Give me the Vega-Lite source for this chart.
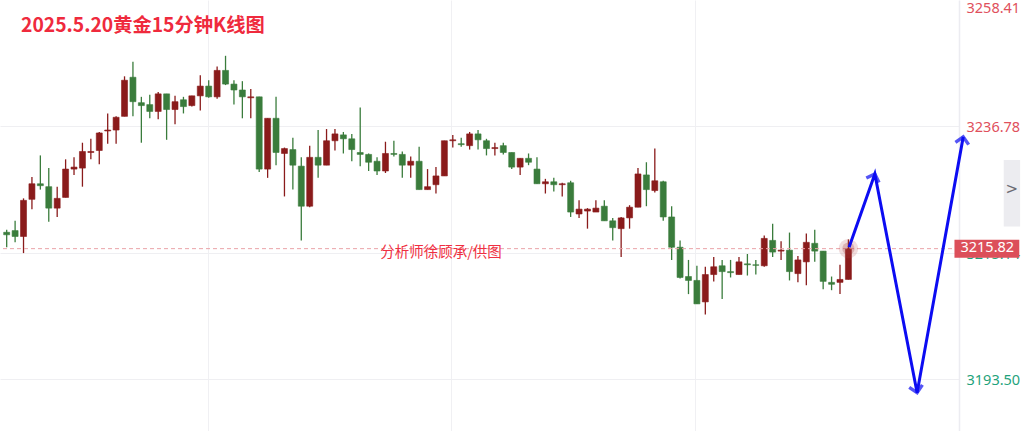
{
  "$schema": "https://vega.github.io/schema/vega-lite/v6.json",
  "width": 959,
  "height": 431,
  "autosize": {"type": "none"},
  "padding": {"left": 0, "top": 0, "right": 65, "bottom": 0},
  "background": "white",
  "view": {"stroke": null},
  "config": {"font": "Noto Sans"},
  "title": {
    "text": "2025.5.20黄金15分钟K线图",
    "anchor": "start",
    "frame": "group",
    "orient": "top",
    "offset": -51,
    "dx": 21,
    "baseline": "alphabetic",
    "font": "Noto Sans CJK SC",
    "fontSize": 19.3,
    "fontWeight": "bold",
    "color": "#ef2a3d"
  },
  "datasets": {
    "candles": [
      {"i":0,"open":3218.62,"high":3219.07,"low":3216.06,"close":3218.19},
      {"i":1,"open":3218.91,"high":3220.58,"low":3216.90,"close":3217.90},
      {"i":2,"open":3217.90,"high":3224.42,"low":3215.06,"close":3224.08},
      {"i":3,"open":3224.25,"high":3228.09,"low":3222.58,"close":3226.92},
      {"i":4,"open":3226.92,"high":3231.77,"low":3225.92,"close":3226.59},
      {"i":5,"open":3226.42,"high":3229.60,"low":3220.41,"close":3222.75},
      {"i":6,"open":3222.75,"high":3226.42,"low":3221.24,"close":3224.42},
      {"i":7,"open":3224.59,"high":3231.10,"low":3224.59,"close":3229.43},
      {"i":8,"open":3229.43,"high":3231.44,"low":3228.43,"close":3229.77},
      {"i":9,"open":3229.60,"high":3233.94,"low":3226.42,"close":3232.44},
      {"i":10,"open":3232.27,"high":3234.61,"low":3231.10,"close":3232.44},
      {"i":11,"open":3232.61,"high":3235.78,"low":3230.27,"close":3235.61},
      {"i":12,"open":3235.95,"high":3238.95,"low":3233.77,"close":3236.11},
      {"i":13,"open":3236.11,"high":3238.45,"low":3233.77,"close":3238.29},
      {"i":14,"open":3238.45,"high":3245.30,"low":3238.45,"close":3244.63},
      {"i":15,"open":3245.14,"high":3247.81,"low":3238.45,"close":3240.96},
      {"i":16,"open":3240.79,"high":3241.79,"low":3233.94,"close":3240.29},
      {"i":17,"open":3240.46,"high":3242.13,"low":3238.12,"close":3239.29},
      {"i":18,"open":3239.29,"high":3242.63,"low":3237.95,"close":3242.30},
      {"i":19,"open":3242.30,"high":3242.30,"low":3234.44,"close":3239.62},
      {"i":20,"open":3239.62,"high":3241.96,"low":3237.12,"close":3240.96},
      {"i":21,"open":3241.29,"high":3241.79,"low":3238.95,"close":3240.12},
      {"i":22,"open":3240.29,"high":3241.96,"low":3240.12,"close":3241.96},
      {"i":23,"open":3241.96,"high":3245.47,"low":3239.46,"close":3243.63},
      {"i":24,"open":3243.63,"high":3244.63,"low":3241.63,"close":3241.79},
      {"i":25,"open":3241.79,"high":3246.97,"low":3241.46,"close":3246.31},
      {"i":26,"open":3246.31,"high":3248.81,"low":3243.80,"close":3243.97},
      {"i":27,"open":3243.97,"high":3244.63,"low":3240.46,"close":3242.96},
      {"i":28,"open":3242.96,"high":3244.47,"low":3238.12,"close":3241.79},
      {"i":29,"open":3241.63,"high":3243.13,"low":3238.12,"close":3241.79},
      {"i":30,"open":3241.79,"high":3241.79,"low":3228.93,"close":3229.43},
      {"i":31,"open":3229.43,"high":3238.12,"low":3227.93,"close":3238.12},
      {"i":32,"open":3238.12,"high":3241.79,"low":3230.10,"close":3232.27},
      {"i":33,"open":3232.10,"high":3233.11,"low":3224.75,"close":3232.94},
      {"i":34,"open":3232.77,"high":3234.78,"low":3225.92,"close":3230.10},
      {"i":35,"open":3229.93,"high":3231.44,"low":3217.23,"close":3223.08},
      {"i":36,"open":3223.08,"high":3233.44,"low":3222.91,"close":3231.44},
      {"i":37,"open":3231.44,"high":3236.11,"low":3227.93,"close":3230.10},
      {"i":38,"open":3230.10,"high":3236.28,"low":3230.10,"close":3234.28},
      {"i":39,"open":3234.28,"high":3236.28,"low":3232.61,"close":3235.45},
      {"i":40,"open":3235.28,"high":3235.78,"low":3232.10,"close":3234.61},
      {"i":41,"open":3234.61,"high":3235.45,"low":3230.77,"close":3232.77},
      {"i":42,"open":3232.27,"high":3239.96,"low":3229.93,"close":3231.94},
      {"i":43,"open":3231.94,"high":3232.10,"low":3229.10,"close":3230.60},
      {"i":44,"open":3230.77,"high":3231.44,"low":3228.43,"close":3229.10},
      {"i":45,"open":3229.10,"high":3234.11,"low":3228.76,"close":3232.10},
      {"i":46,"open":3232.10,"high":3234.28,"low":3231.60,"close":3231.94},
      {"i":47,"open":3231.94,"high":3232.44,"low":3227.93,"close":3230.10},
      {"i":48,"open":3230.10,"high":3231.60,"low":3227.93,"close":3230.77},
      {"i":49,"open":3230.77,"high":3233.27,"low":3225.92,"close":3225.92},
      {"i":50,"open":3225.92,"high":3229.43,"low":3225.92,"close":3226.42},
      {"i":51,"open":3226.76,"high":3229.77,"low":3225.25,"close":3228.26},
      {"i":52,"open":3228.26,"high":3234.28,"low":3228.26,"close":3234.28},
      {"i":53,"open":3234.28,"high":3235.28,"low":3233.11,"close":3234.44},
      {"i":54,"open":3233.77,"high":3234.78,"low":3233.27,"close":3233.61},
      {"i":55,"open":3233.44,"high":3235.78,"low":3232.77,"close":3235.45},
      {"i":56,"open":3235.45,"high":3236.11,"low":3232.77,"close":3234.44},
      {"i":57,"open":3234.28,"high":3234.61,"low":3231.77,"close":3232.94},
      {"i":58,"open":3232.94,"high":3233.94,"low":3231.77,"close":3233.11},
      {"i":59,"open":3233.44,"high":3233.94,"low":3231.94,"close":3232.27},
      {"i":60,"open":3232.27,"high":3232.27,"low":3229.43,"close":3229.77},
      {"i":61,"open":3229.77,"high":3231.27,"low":3228.43,"close":3231.27},
      {"i":62,"open":3231.27,"high":3232.10,"low":3230.10,"close":3230.60},
      {"i":63,"open":3229.43,"high":3231.44,"low":3226.92,"close":3226.92},
      {"i":64,"open":3226.92,"high":3227.76,"low":3225.25,"close":3227.26},
      {"i":65,"open":3227.26,"high":3227.93,"low":3225.59,"close":3226.76},
      {"i":66,"open":3226.76,"high":3227.09,"low":3224.75,"close":3226.92},
      {"i":67,"open":3227.09,"high":3227.43,"low":3221.24,"close":3222.08},
      {"i":68,"open":3221.75,"high":3224.08,"low":3221.08,"close":3222.58},
      {"i":69,"open":3222.25,"high":3222.75,"low":3219.24,"close":3222.58},
      {"i":70,"open":3222.08,"high":3224.08,"low":3222.08,"close":3222.75},
      {"i":71,"open":3223.08,"high":3224.08,"low":3220.58,"close":3220.58},
      {"i":72,"open":3220.58,"high":3221.08,"low":3217.23,"close":3219.41},
      {"i":73,"open":3219.24,"high":3221.24,"low":3214.39,"close":3221.08},
      {"i":74,"open":3221.08,"high":3223.25,"low":3219.24,"close":3222.91},
      {"i":75,"open":3222.91,"high":3229.60,"low":3222.91,"close":3228.60},
      {"i":76,"open":3228.43,"high":3230.60,"low":3223.08,"close":3225.92},
      {"i":77,"open":3225.76,"high":3232.94,"low":3225.42,"close":3227.43},
      {"i":78,"open":3227.26,"high":3227.43,"low":3220.58,"close":3221.24},
      {"i":79,"open":3221.24,"high":3223.08,"low":3213.89,"close":3216.06},
      {"i":80,"open":3216.06,"high":3217.23,"low":3210.72,"close":3210.89},
      {"i":81,"open":3211.05,"high":3213.89,"low":3208.04,"close":3210.38},
      {"i":82,"open":3210.38,"high":3212.89,"low":3206.37,"close":3206.37},
      {"i":83,"open":3206.71,"high":3212.72,"low":3204.54,"close":3211.39},
      {"i":84,"open":3211.39,"high":3214.39,"low":3210.22,"close":3212.72},
      {"i":85,"open":3212.89,"high":3213.89,"low":3207.21,"close":3211.89},
      {"i":86,"open":3211.89,"high":3213.89,"low":3210.89,"close":3211.72},
      {"i":87,"open":3211.39,"high":3214.39,"low":3211.39,"close":3213.56},
      {"i":88,"open":3213.22,"high":3214.90,"low":3211.22,"close":3213.06},
      {"i":89,"open":3213.06,"high":3213.89,"low":3211.39,"close":3212.97},
      {"i":90,"open":3212.89,"high":3218.07,"low":3212.72,"close":3217.57},
      {"i":91,"open":3217.23,"high":3220.07,"low":3214.39,"close":3215.23},
      {"i":92,"open":3215.40,"high":3217.07,"low":3213.89,"close":3215.56},
      {"i":93,"open":3215.56,"high":3218.57,"low":3210.38,"close":3211.89},
      {"i":94,"open":3211.55,"high":3214.56,"low":3210.05,"close":3213.89},
      {"i":95,"open":3213.56,"high":3218.40,"low":3209.55,"close":3216.90},
      {"i":96,"open":3216.73,"high":3219.07,"low":3213.56,"close":3215.40},
      {"i":97,"open":3215.40,"high":3215.40,"low":3208.88,"close":3210.22},
      {"i":98,"open":3210.05,"high":3211.05,"low":3208.71,"close":3209.72},
      {"i":99,"open":3210.05,"high":3213.06,"low":3208.04,"close":3210.55},
      {"i":100,"open":3210.55,"high":3217.40,"low":3210.55,"close":3215.82}
    ],
    "forecast": [
      {"o":0,"i":100.08,"p":3216.06},
      {"o":1,"i":103.14,"p":3228.60},
      {"o":2,"i":108.16,"p":3191.17},
      {"o":3,"i":113.64,"p":3234.94}
    ],
    "last": [{"i":100,"price":3215.82,"label":"3215.82"}],
    "note": [{"text":"分析师徐顾承/供图","i":51.6,"p":3215.0}],
    "tab": [{"label":">"}]
  },
  "layer": [
    {
      "data": {"name": "candles"},
      "mark": {"type": "rule", "strokeWidth": 1.3},
      "encoding": {
        "x": {"field": "i", "type": "quantitative",
              "scale": {"domain": [-0.2, 112.544], "zero": false, "nice": false},
              "axis": {"title": null, "values": [23.9, 52.82, 81.74], "labels": false, "ticks": false, "domain": false,
                       "grid": true, "gridColor": "#f0f0f3", "gridWidth": 1}},
        "y": {"field": "low", "type": "quantitative",
              "scale": {"domain": [3185.48, 3257.5], "zero": false, "nice": false},
              "axis": {"title": null, "orient": "right", "values": [3257.2, 3236.78, 3215.14, 3193.5],
                       "labelExpr": "datum.value > 3250 ? '3258.41' : format(datum.value, '.2f')",
                       "ticks": false, "domain": true, "domainColor": "#ececf1", "domainWidth": 1.5,
                       "grid": true, "gridWidth": 1,
                       "gridColor": {"condition": {"test": "datum.value > 3250", "value": "transparent"}, "value": "#efeff2"},
                       "labelColor": {"condition": {"test": "datum.value > 3230", "value": "#e0505c"}, "value": "#1fa37c"},
                       "labelFont": "Noto Sans", "labelFontSize": 14.5, "labelPadding": 7, "labelOffset": 1.5,
                       "labelBaseline": "middle", "labelFlush": false, "labelOverlap": false}},
        "y2": {"field": "high"},
        "color": {"condition": {"test": "datum.close >= datum.open", "value": "#8a1b1b"}, "value": "#3a7c3c"}
      }
    },
    {
      "data": {"name": "candles"},
      "mark": {"type": "bar", "size": 6, "strokeWidth": 0.6},
      "encoding": {
        "x": {"field": "i", "type": "quantitative"},
        "y": {"field": "open", "type": "quantitative"},
        "y2": {"field": "close"},
        "color": {"condition": {"test": "datum.close >= datum.open", "value": "#8a1b1b"}, "value": "#3a7c3c"},
        "stroke": {"condition": {"test": "datum.close >= datum.open", "value": "#8a1b1b"}, "value": "#3a7c3c"}
      }
    },
    {
      "data": {"name": "last"},
      "mark": {"type": "rule", "color": "#eba3a8", "strokeDash": [4, 3], "strokeWidth": 1},
      "encoding": {"y": {"field": "price", "type": "quantitative"}}
    },
    {
      "data": {"name": "last"},
      "mark": {"type": "point", "filled": true, "size": 380, "color": "#b04545", "opacity": 0.18},
      "encoding": {"x": {"field": "i", "type": "quantitative"}, "y": {"field": "price", "type": "quantitative"}}
    },
    {
      "data": {"name": "last"},
      "mark": {"type": "point", "filled": true, "size": 150, "color": "#a03030", "opacity": 0.25},
      "encoding": {"x": {"field": "i", "type": "quantitative"}, "y": {"field": "price", "type": "quantitative"}}
    },
    {
      "data": {"name": "note"},
      "mark": {"type": "text", "font": "Noto Sans CJK SC", "fontSize": 14.5, "color": "#ef2f42", "align": "center", "baseline": "middle"},
      "encoding": {"x": {"field": "i", "type": "quantitative"}, "y": {"field": "p", "type": "quantitative"}, "text": {"field": "text"}}
    },
    {
      "data": {"name": "forecast"},
      "mark": {"type": "line", "color": "#0c0cf2", "strokeWidth": 3, "clip": false},
      "encoding": {"x": {"field": "i", "type": "quantitative"}, "y": {"field": "p", "type": "quantitative"}, "order": {"field": "o"}}
    },
    {
      "data": {"name": "forecast"},
      "transform": [{"filter": "datum.o == 1"}],
      "mark": {"type": "point", "shape": "M-1,1L0,0L1,1", "size": 180, "filled": false, "stroke": "#0c0cf2", "strokeWidth": 3.4, "angle": 19},
      "encoding": {"x": {"field": "i", "type": "quantitative"}, "y": {"field": "p", "type": "quantitative"}}
    },
    {
      "data": {"name": "forecast"},
      "transform": [{"filter": "datum.o == 2"}],
      "mark": {"type": "point", "shape": "M-1,1L0,0L1,1", "size": 180, "filled": false, "stroke": "#0c0cf2", "strokeWidth": 3.4, "angle": 169},
      "encoding": {"x": {"field": "i", "type": "quantitative"}, "y": {"field": "p", "type": "quantitative"}}
    },
    {
      "data": {"name": "forecast"},
      "transform": [{"filter": "datum.o == 3"}],
      "mark": {"type": "point", "shape": "M-1,1L0,0L1,1", "size": 180, "filled": false, "stroke": "#0c0cf2", "strokeWidth": 3.4, "angle": 10},
      "encoding": {"x": {"field": "i", "type": "quantitative"}, "y": {"field": "p", "type": "quantitative"}}
    },
    {
      "data": {"name": "tab"},
      "mark": {"type": "rect", "color": "#ececf0", "clip": false},
      "encoding": {"x": {"datum": 118.45, "type": "quantitative"}, "x2": {"datum": 120.4},
                   "y": {"datum": 3231.0, "type": "quantitative"}, "y2": {"datum": 3219.6}}
    },
    {
      "data": {"name": "tab"},
      "mark": {"type": "text", "font": "DejaVu Sans", "fontSize": 15, "color": "#6a6a72", "align": "center", "baseline": "middle", "clip": false},
      "encoding": {"x": {"datum": 119.4, "type": "quantitative"}, "y": {"datum": 3226.0, "type": "quantitative"}, "text": {"field": "label"}}
    },
    {
      "data": {"name": "last"},
      "mark": {"type": "bar", "orient": "horizontal", "size": 18, "color": "#dc4f5a", "clip": false},
      "encoding": {"x": {"datum": 112.6, "type": "quantitative"}, "x2": {"datum": 120.3}, "y": {"field": "price", "type": "quantitative"}}
    },
    {
      "data": {"name": "last"},
      "mark": {"type": "text", "font": "Noto Sans", "fontSize": 14.5, "color": "white", "align": "center", "baseline": "middle", "dy": -1, "clip": false},
      "encoding": {"x": {"datum": 116.5, "type": "quantitative"}, "y": {"field": "price", "type": "quantitative"}, "text": {"field": "label"}}
    }
  ]
}
